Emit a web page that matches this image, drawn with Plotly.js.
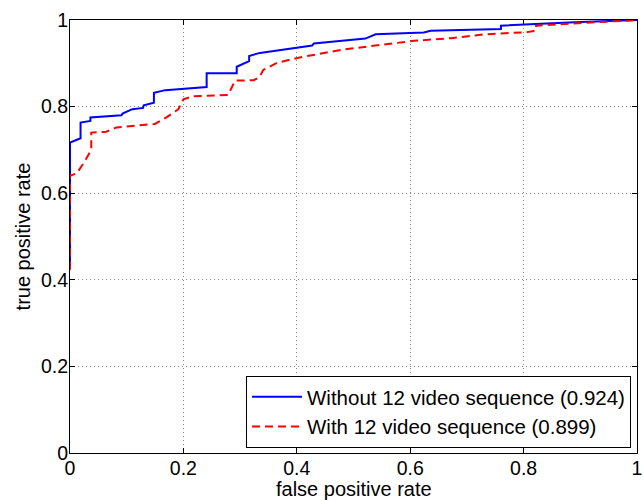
<!DOCTYPE html>
<html>
<head>
<meta charset="utf-8">
<script src="https://cdn.plot.ly/plotly-3.0.1.min.js"></script>
<style>html,body{margin:0;padding:0;background:#fff;}#chart{width:643px;height:500px;}</style>
</head>
<body>
<div id="chart"></div>
<script>
var blueFpr = [0, 0, 0.0186, 0.0186, 0.036, 0.036, 0.0906, 0.0935, 0.110, 0.129, 0.130, 0.148, 0.148, 0.168, 0.241, 0.241, 0.294, 0.294, 0.316, 0.316, 0.335, 0.427, 0.430, 0.521, 0.539, 0.624, 0.636, 0.672, 0.760, 0.760, 0.836, 0.890, 1.0];
var blueTpr = [0.424, 0.717, 0.727, 0.763, 0.767, 0.775, 0.780, 0.7845, 0.794, 0.797, 0.803, 0.809, 0.832, 0.838, 0.845, 0.877, 0.877, 0.892, 0.905, 0.917, 0.924, 0.941, 0.946, 0.957, 0.967, 0.971, 0.975, 0.976, 0.979, 0.987, 0.992, 0.995, 1.0];

var redFpr = [0, 0, 0.012, 0.0257, 0.0375, 0.0375, 0.064, 0.082, 0.1496, 0.170, 0.191, 0.200, 0.217, 0.279, 0.291, 0.324, 0.334, 0.341, 0.365, 0.403, 0.483, 0.5655, 0.607, 0.672, 0.731, 0.807, 0.822, 0.822, 0.849, 0.920, 1.0];
var redTpr = [0.424, 0.64, 0.646, 0.673, 0.700, 0.740, 0.742, 0.752, 0.760, 0.775, 0.794, 0.817, 0.824, 0.827, 0.860, 0.861, 0.868, 0.885, 0.901, 0.913, 0.932, 0.945, 0.952, 0.958, 0.967, 0.972, 0.976, 0.987, 0.989, 0.993, 1.0];

var seriesNames = ['Without 12 video sequence (0.924)', 'With 12 video sequence (0.899)'];
var tickVals = [0, 0.2, 0.4, 0.6, 0.8, 1];
var tickText = ['0', '0.2', '0.4', '0.6', '0.8', '1'];
var xTitle = 'false positive rate';
var yTitle = 'true positive rate';

var fam = 'Liberation Sans, Arial, Helvetica, sans-serif';
var tickFont = {family: fam, size: 19.5, color: '#000'};
var titleFont = {family: fam, size: 20, color: '#000'};
var legendFont = {family: fam, size: 20.5, color: '#000'};

var traces = [
  {x: blueFpr, y: blueTpr, type: 'scatter', mode: 'lines', name: seriesNames[0],
   line: {color: '#0000ff', width: 2}},
  {x: redFpr, y: redTpr, type: 'scatter', mode: 'lines', name: seriesNames[1],
   line: {color: '#ff0000', width: 2, dash: '8px,5px'}}
];

var axisCommon = {
  range: [0, 1], tickvals: tickVals, ticktext: tickText,
  ticks: 'inside', ticklen: 5, tickcolor: '#000', tickwidth: 1,
  showline: true, linecolor: '#000', linewidth: 1, mirror: 'ticks',
  showgrid: true, gridcolor: '#888888', griddash: '1px,3px', gridwidth: 1,
  zeroline: false, tickfont: tickFont
};

var layout = {
  width: 643, height: 500,
  margin: {l: 70, r: 6, t: 20, b: 47},
  paper_bgcolor: '#fff', plot_bgcolor: '#fff',
  font: tickFont,
  showlegend: true,
  xaxis: Object.assign({}, axisCommon, {
    ticklabelstandoff: -2
  }),
  yaxis: Object.assign({}, axisCommon, {
    ticklabelstandoff: -3,
    title: {text: yTitle, font: titleFont, standoff: 4}
  }),
  annotations: [{
    text: xTitle, xref: 'paper', yref: 'paper', x: 0.5, y: -0.056,
    xanchor: 'center', yanchor: 'top', showarrow: false, font: titleFont, borderpad: 0
  }],
  legend: {
    x: 0.9894, y: 0.0115, xanchor: 'right', yanchor: 'bottom',
    bgcolor: '#fff', bordercolor: '#000', borderwidth: 1,
    font: legendFont, tracegroupgap: 0, itemwidth: 50
  }
};

Plotly.newPlot('chart', traces, layout, {displayModeBar: false, staticPlot: true});
</script>
</body>
</html>
